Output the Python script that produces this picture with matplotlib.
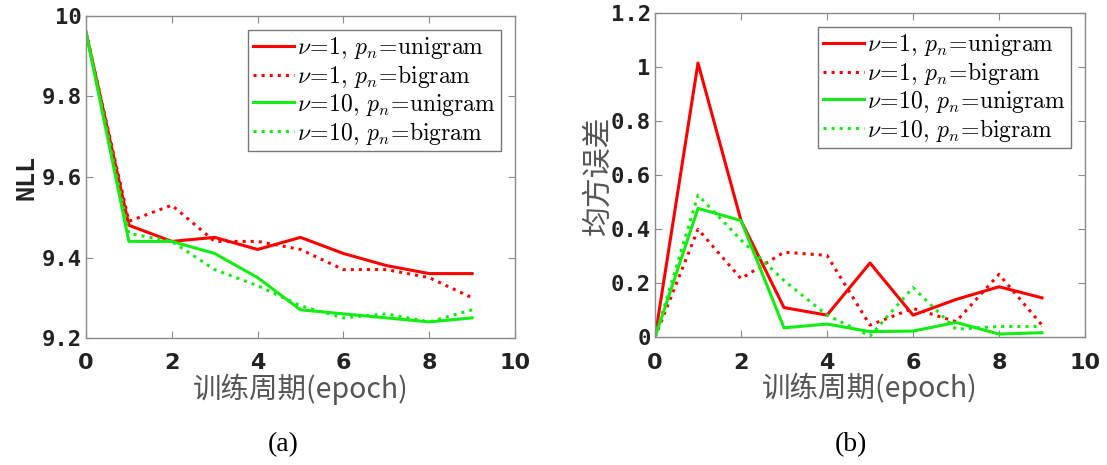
import matplotlib
matplotlib.use("Agg")
import matplotlib.pyplot as plt

plt.rcParams['mathtext.fontset'] = 'cm'

epochs = [0, 1, 2, 3, 4, 5, 6, 7, 8, 9]

nll_v1_uni = [9.96, 9.48, 9.44, 9.45, 9.42, 9.45, 9.41, 9.38, 9.36, 9.36]
nll_v1_bi = [9.96, 9.49, 9.53, 9.44, 9.44, 9.42, 9.37, 9.37, 9.35, 9.30]
nll_v10_uni = [9.96, 9.44, 9.44, 9.41, 9.35, 9.27, 9.26, 9.25, 9.24, 9.25]
nll_v10_bi = [9.96, 9.46, 9.44, 9.37, 9.33, 9.28, 9.25, 9.26, 9.24, 9.27]

mse_v1_uni = [0.0, 1.015, 0.432, 0.11, 0.082, 0.275, 0.082, 0.14, 0.187, 0.146]
mse_v1_bi = [0.0, 0.40, 0.217, 0.315, 0.303, 0.045, 0.107, 0.058, 0.233, 0.045]
mse_v10_uni = [0.0, 0.477, 0.432, 0.035, 0.049, 0.021, 0.023, 0.055, 0.012, 0.017]
mse_v10_bi = [0.0, 0.526, 0.36, 0.21, 0.082, 0.005, 0.184, 0.03, 0.04, 0.04]

labels = [r'$\nu\!=\!1,\,p_n\!=\!\mathrm{unigram}$',
          r'$\nu\!=\!1,\,p_n\!=\!\mathrm{bigram}$',
          r'$\nu\!=\!10,\,p_n\!=\!\mathrm{unigram}$',
          r'$\nu\!=\!10,\,p_n\!=\!\mathrm{bigram}$']

RED = '#ff0000'
GREEN = '#11ee11'
styles = [(RED, '-'), (RED, ':'), (GREEN, '-'), (GREEN, ':')]

xlabel = '训练周期(epoch)'
cjk = ['Noto Sans CJK SC', 'DejaVu Sans']

fig = plt.figure(figsize=(11.07, 4.65), dpi=100)
ax1 = fig.add_axes([86/1107, 1 - 338/465, 429/1107, 322/465])
ax2 = fig.add_axes([655/1107, 1 - 337.3/465, 430/1107, 324.3/465])

def style_axes(ax):
    for s in ax.spines.values():
        s.set_color('#8a8a8a')
        s.set_linewidth(1.0)
    ax.tick_params(direction='in', length=5, width=0.8, color='#8a8a8a',
                   top=True, right=True)
    ax.tick_params(axis='y', labelsize=16, pad=3)
    ax.tick_params(axis='x', labelsize=16, pad=11)
    for t in ax.get_yticklabels():
        t.set_fontfamily('DejaVu Sans Mono')
        t.set_fontweight('bold')
        t.set_color('#222222')
    for t in ax.get_xticklabels():
        t.set_fontfamily('DejaVu Sans')
        t.set_fontweight('bold')
        t.set_color('#222222')
    ax.set_xlabel(xlabel, family=cjk, fontsize=20.5, color='#555555', labelpad=0)

for ax, data in [(ax1, [nll_v1_uni, nll_v1_bi, nll_v10_uni, nll_v10_bi]),
                 (ax2, [mse_v1_uni, mse_v1_bi, mse_v10_uni, mse_v10_bi])]:
    for ys, (c, ls), lab in zip(data, styles, labels):
        ax.plot(epochs, ys, color=c, linestyle=ls, linewidth=2.2, label=lab)

ax1.set_xlim(0, 10)
ax1.set_ylim(9.2, 10)
ax1.set_xticks([0, 2, 4, 6, 8, 10])
ax1.set_yticks([9.2, 9.4, 9.6, 9.8, 10])
ax1.set_yticklabels(['9.2', '9.4', '9.6', '9.8', '10'])

ax2.set_xlim(0, 10)
ax2.set_ylim(0, 1.2)
ax2.set_xticks([0, 2, 4, 6, 8, 10])
ax2.set_yticks([0, 0.2, 0.4, 0.6, 0.8, 1.0, 1.2])
ax2.set_yticklabels(['0', '0.2', '0.4', '0.6', '0.8', '1', '1.2'])

style_axes(ax1)
style_axes(ax2)

ax1.set_ylabel('NLL', family='DejaVu Sans Mono', fontweight='bold', fontsize=18,
               color='#222222', labelpad=2)
ax2.set_ylabel('均方误差', family=cjk, fontsize=21.5, color='#555555', labelpad=-2)

for ax in (ax1, ax2):
    leg = ax.legend(loc='upper right', fontsize=17, frameon=True, fancybox=False,
                    edgecolor='#777777', framealpha=1, handlelength=1.75,
                    handletextpad=0.12, labelspacing=0.08, borderpad=0.2,
                    borderaxespad=0.6)
    leg.get_frame().set_linewidth(1.0)

fig.text(283/1107, 1 - 445/465, '(a)', family='Liberation Serif', fontsize=20,
         ha='center', va='center')
fig.text(851/1107, 1 - 445/465, '(b)', family='Liberation Serif', fontsize=20,
         ha='center', va='center')

fig.savefig('out.png', dpi=100)
